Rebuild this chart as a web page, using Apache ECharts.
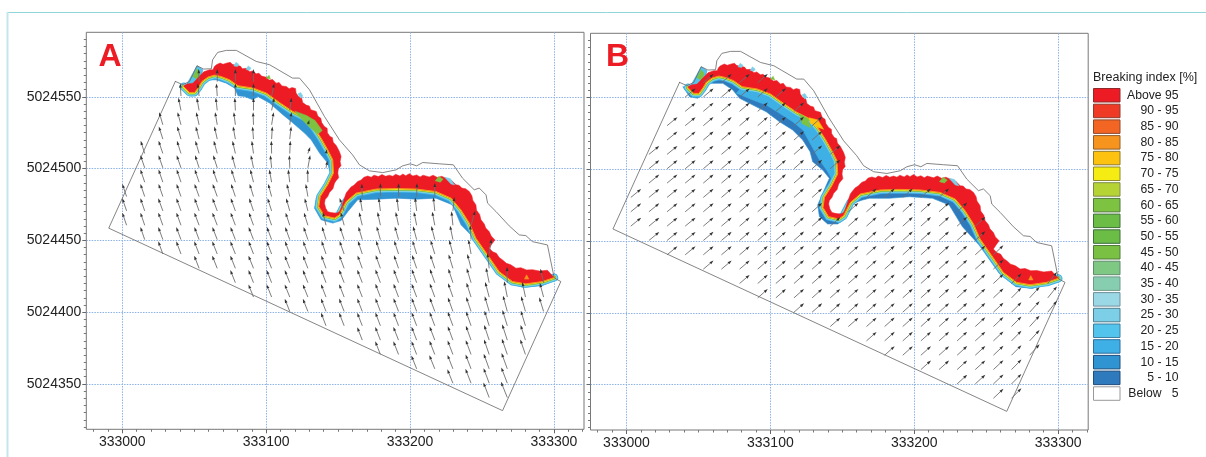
<!DOCTYPE html>
<html><head><meta charset="utf-8">
<style>html,body{margin:0;padding:0;background:#fff;overflow:hidden}#c{width:1206px;height:457px}</style>
<script src="https://cdn.jsdelivr.net/npm/echarts@6/dist/echarts.min.js"></script>
</head><body><div id="c"></div>
<script>
// All coordinates are metres, relative to easting 333000 / northing 5024000.
const EAST0 = 333000, NORTH0 = 5024000;
const xTickValues = [333000, 333100, 333200, 333300];
const yTickValues = [5024350, 5024400, 5024450, 5024500, 5024550];

const domainOutline = [[36.9,560.7],[-9.4,458.5],[264.3,331.4],[304.8,421.3],[300.2,423.8],[295.5,446.8],[285.1,449.1],[280.5,453.3],[275.9,453.8],[268.9,460.1],[259.7,470.1],[253.9,475.9],[252.8,481.7],[248.1,486.4],[244.6,485.2],[236.5,493.3],[230.1,502.6],[220.3,503.3],[208.8,504.2],[204.6,501.9],[200.2,503.3],[194.9,501.9],[190.3,499.1],[181,497.2],[171.8,498.4],[164.8,502.6],[160,509.6],[150.9,520],[140.5,536.3],[130.1,554.9],[123.2,563],[118.3,563],[102.4,572.3],[93.1,574.6],[79.3,582.3],[72.3,582.3],[66.3,580.9],[62.8,575.8],[61.9,569.5],[56.6,569.3],[51.9,571.6],[46.8,560.7],[42,558.4],[36.9,560.7]];

const greenLine = [[42.7,557],[46.8,553],[50.3,553],[53.1,556.8],[55.4,560.7],[59.5,563.7],[64.2,565.1],[68.8,564.1],[74.6,561.8],[80.4,557.7],[90.8,556.1],[100.1,552.6],[109.3,546],[118.5,539.8],[127.8,535.2],[133.6,528.2],[138.2,521.2],[142.8,513.1],[146.3,506.1],[146.8,496.8],[142.8,488.7],[137.6,480.5],[136.6,473.5],[140.5,467.1],[147.5,465.5],[150.9,467.8],[155.6,477],[162.5,482.9],[176.4,485.7],[190.3,486.1],[204.2,485.7],[218,484],[228.5,479.4],[235.4,471.2],[241.2,462],[245.8,451.5],[253.9,439.9],[262,428.2],[271.2,421.3],[280.5,419.7],[292,421.3],[300.2,424.1]];

const redEdge = [[42.9,557.7],[45,558.9],[49.1,559.5],[53.1,563.7],[56.6,567.4],[60.7,568.8],[63,568.8],[64,571],[65.4,572.3],[68,573.5],[70,572.6],[72.3,573.4],[75,574],[76.5,572.6],[79.3,571.8],[82,571.4],[83.5,569.6],[86.2,569.8],[88.5,567.4],[90.5,568],[93.1,566],[95,566.4],[96.8,564.4],[100.1,563.6],[102,561.6],[104.5,562],[107,559.5],[109,560],[111,557.5],[114,557.2],[116,555.6],[118,556.4],[120.4,555.8],[120.8,552.6],[122.5,550.2],[124.6,549.4],[125.4,546],[127.8,544.2],[130,543.6],[131,541],[134.8,539.8],[136,536.4],[138,535],[138.6,532],[140.5,529.3],[142.4,528],[142.6,525],[144.4,522.3],[146,521.6],[146.6,518.4],[148.7,516],[150,513.6],[151,511.6],[152.1,508.4],[151.4,505],[152,502],[150.2,499.8],[149.8,496.8],[150.4,493.6],[148.6,491.5],[147.5,489.8],[146.4,486],[144,483.4],[142.8,480.5],[141,478.4],[140.5,475.9],[141.4,472.4],[142.8,470],[145,469.4],[148.7,468.9],[151,470],[152.1,472.4],[153.6,477],[155.6,482.9],[156.7,484.4],[159,487.2],[161,488.4],[163.6,491],[166,492],[168,494],[170.6,494.8],[173,494],[175,495.4],[178,494.4],[180.5,495.8],[183,494.6],[185.6,495.4],[188,494.6],[190,496],[193,494.8],[195,496.2],[197,495],[199.5,496.4],[202,494.8],[204.6,495.6],[207,494.2],[209,495.4],[213.4,494.2],[216,495.4],[219,493.8],[222,494.6],[225,493.3],[227,491.4],[229,491.6],[231.9,488.7],[234,488.4],[236,486.4],[238.6,486],[241.2,484],[243,481],[243.6,478],[245.8,474.7],[246.2,471],[248.4,468],[249.3,464.3],[251.6,461.4],[252.6,458.6],[255,456.1],[256.4,453],[259,450.3],[257,447.6],[255,444.5],[257.5,442],[260,441],[262,438],[264.3,436.4],[267,434],[270,433],[273.6,430.6],[277,431],[281,429.4],[285.1,429.6],[290,428.6],[295.5,429.2],[298,426.4],[300.2,424.1]];

const waterEdgeA = [[42.7,556.3],[44.6,553.7],[48,550.7],[51.5,551.4],[53.8,555.4],[56.1,559.5],[60.7,561.8],[65.4,561.8],[72.3,559.5],[78.1,556.1],[80.4,550.7],[85,550.2],[90.8,547.9],[94.2,550.2],[102.4,545.6],[111.6,537.5],[117.4,532.8],[126.7,524.7],[131.3,520],[137.1,510.8],[142.8,503.8],[144.5,496.8],[140.5,488.7],[134.8,479.4],[133.6,472.4],[138.2,464.3],[146.3,462],[152.1,463.8],[156.7,470],[163.6,478.2],[177.5,478.7],[190.3,479.4],[204.2,478.7],[218,479.4],[229.6,474.7],[235.4,460.8],[242.3,453.8],[250.4,441],[259.7,428.2],[268.9,420.1],[278.1,417.4],[292,418.5],[301.3,422.4]];

const waterEdgeB = [[39.2,557.7],[43.9,550.7],[49.6,549.6],[54.3,554.2],[57.7,560],[67,560],[73.9,555.4],[78.6,549.6],[87.8,544.9],[97.1,540.2],[106.3,533.3],[115.5,527.5],[122.5,520.5],[127.6,512.4],[129.4,505.4],[136.4,499.6],[141,493.8],[136.4,483.4],[132.9,475.2],[134.1,467.1],[139.8,462],[146.8,462],[152.6,465.9],[157.2,476.4],[164.1,478.7],[168.8,479.9],[182.7,479.9],[196.6,481],[212.7,479.9],[224.3,475.2],[233.5,460.1],[245.1,447.3],[259,427.6],[270.6,418.3],[282.1,417.1],[300.6,422.9]];

const midBlueB = [[76.3,553.1],[87.8,548.4],[97.1,544.9],[106.3,539.1],[115.5,533.3],[122.5,527.5],[128.3,517],[134.1,506.6],[139.1,499.6],[143,492.6],[142.8,488.7],[146.8,496.8],[146.3,506.1],[142.8,513.1],[138.2,521.2],[133.6,528.2],[127.8,535.2],[118.5,539.8],[109.3,546],[100.1,552.6],[90.8,556.1],[80.4,557.7]];

const tipPatch = [[44.9,558.9],[52,571.6],[56,568.8],[54,562],[50,558]];
const tipGreen = [[49,564],[52,569.5],[54,567],[52.5,562]];
const greenPatchA = [[120,540],[128,537],[134,533.5],[139,526.5],[136,524],[130,529],[124,535]];
const greenPatchB = [[120,539],[126,535.5],[128,529],[122,532]];
const orangePatchB = [[127,536],[133,534.5],[137,528],[133,529.5],[128,532]];
const cyanSpecks = [[[77.5,571.5],[79,574],[81,572.6],[80,571]],[[86,569],[87.5,571.5],[89.5,570],[88.5,568.4]],[[122,552],[124,549],[125.5,550.5],[124,553]],[[224,494],[228,493],[231,488.6],[228.5,489.2]]];
const greenSpecks = [[[100,563],[102,565],[103,562.4]],[[217.5,491.5],[220,494.5],[223,492.6],[221,490.5]]];
const orangeSpeck = [[279.5,423],[281,426],[282.6,423]];

const rowStep = 10, rowOffset = 0.5;
const arrowColumns = [3,15.6,28.2,40.8,53.4,66,78.6,91.2,103.8,116.4,129,141.6,154.2,166.8,179.4,192,204.6,217.2,229.8,242.4,255,267.6,280.2,292.8];
const arrowFirstRow = [460,450,440,440,430,430,420,410,410,400,400,390,390,380,370,370,360,360,350,350,340,340,370,400];

// Panel A: eastward component of each arrow, south to north, column by column
const arrowEastA = [
 [-3,-3,-3],
 [-3,-3,-3,-3,-3,-3,-2.8],
 [-3.2,-3.2,-3.2,-3.2,-3,-3,-3,-3,-2.8,-2.6],
 [-3.3,-3.3,-3.2,-3.2,-3.1,-3,-3,-2.8,-2.6,-2.4,-1.8,-0.5],
 [-3.4,-3.4,-3.3,-3.3,-3.2,-3.2,-3,-2.8,-2.6,-2.3,-2,-1.6,-1,-0.3],
 [-3.5,-3.5,-3.4,-3.4,-3.3,-3.2,-3,-2.8,-2.4,-2,-1.5,-1,-0.6,0],
 [-3.5,-3.5,-3.5,-3.4,-3.3,-3.2,-3,-2.8,-2.4,-2,-1.6,-1.1,-0.4,0,0],
 [-3.5,-3.5,-3.5,-3.4,-3.4,-3.2,-3,-2.7,-2.2,-1.8,-1.2,-0.7,-0.3,0,0,0],
 [-3.5,-3.5,-3.5,-3.4,-3.3,-3.1,-2.8,-2.4,-1.6,-0.9,-0.2,0.5,1.4,1.8,1.8],
 [-3.5,-3.5,-3.5,-3.5,-3.3,-3.2,-2.9,-2.5,-2,-1.1,-0.3,0.4,1,1.2,1.2],
 [-3.5,-3.5,-3.5,-3.4,-3.3,-3,-2.7,-2.2,-1.5,-0.2,1.6],
 [-3.5,-3.5,-3.5,-3.4,-3.3,-3.1,-2.8,-2.2],
 [-3.5,-3.5,-3.5,-3.5,-3.4,-3.2,-3,-2.4,-3.2],
 [-3.5,-3.5,-3.5,-3.5,-3.5,-3.3,-3,-2.7,-2.2,-1.5,-0.3],
 [-3.6,-3.6,-3.5,-3.5,-3.5,-3.5,-3.3,-3,-2.6,-2,-1.2,0],
 [-3.6,-3.6,-3.5,-3.5,-3.5,-3.4,-3.2,-3,-2.6,-2,-1.2,0],
 [-3.7,-3.6,-3.6,-3.5,-3.5,-3.5,-3.4,-3.2,-2.9,-2.5,-1.9,-1.1,0.2],
 [-3.8,-3.7,-3.6,-3.6,-3.5,-3.5,-3.4,-3.2,-2.9,-2.4,-1.8,-1,0],
 [-3.9,-3.8,-3.7,-3.6,-3.6,-3.5,-3.4,-3.2,-3,-2.6,-2,-1,1],
 [-3.9,-3.8,-3.7,-3.6,-3.5,-3.4,-3.2,-3,-2.6,-1.8,-0.6,2.8],
 [-4,-3.9,-3.8,-3.6,-3.5,-3.3,-3.1,-2.8,-2.2,-1.2,1.5],
 [-4.4,-4.2,-4,-3.8,-3.6,-3.4,-3,-2.2,-0.2],
 [-3.6,-3.4,-3.2,-3,-2.2],
 [-3,-2.6,-2.2]
];
const arrowNorthA = [8.8,8.8,8.8,8.8,8.8,8.8,8.8,8.8,8.8,8.8,8.8,9,9,9,9.2,9.2,9.3,9.5,9.7,10,10.5,11,10.5,9.8];
// Panel A: the short arrows inside the breaking zone [column, row, east, north]
const arrowShortA = [[10,510,1.6,4.6],[10,530,1,3.4],[11,500,1,5],[11,510,0.6,3]];

// Panel B: one eastward / northward component per column
const arrowLastRowB = [480,510,530,550,560,560,560,560,550,540,530,460,470,480,480,480,480,480,470,460,440,420,410,420];
const arrowExtraB = [[11,500],[11,510]];
const arrowEastB = [7.2,7.2,7.2,7.2,7.1,7.1,7,7,7,7,7,7,7,7,7,7,7,7,7,7,7,6.9,6.9,6.4];
const arrowNorthB = [5.9,5.9,5.9,5.9,6,6,6,6.1,6.1,6.2,6.2,6.2,6.2,6.2,6.3,6.3,6.3,6.3,6.4,6.4,6.6,7,7.6,8];

const legendNames = ['Above 95','90 - 95','85 - 90','80 - 85','75 - 80','70 - 75','65 - 70','60 - 65','55 - 60','50 - 55','45 - 50','40 - 45','35 - 40','30 - 35','25 - 30','20 - 25','15 - 20','10 - 15','5 - 10','Below   5'];
const legendColors = ['#ed1c24','#ef3b26','#f36523','#f7941e','#fdc20f','#f5ec13','#b5d334','#7ec242','#6cbd45','#6cbd45','#7ac143','#7fc884','#87ceb0','#9bd8e6','#7ccfe6','#53c5ec','#3eb0e5','#3093d2','#2f79bd','#ffffff'];
const legendBorders = ['#8f2a2c','#8f3a2c','#8f4a2c','#8f5f2c','#8f7a2c','#8f8a2c','#7f8a4c','#4f7a3c','#3f6f3c','#3f6f3c','#4f7a3c','#5f8a6c','#6f9a8c','#6f8f9c','#4f7f8f','#3f7f9f','#2f6f9f','#1f4f7f','#1f4f7f','#999999'];

const colour = n => legendColors[legendNames.indexOf(n)];
const toData = p => [EAST0 + p[0], NORTH0 + p[1]];

function shapeSeries(name, panel, points, opts) {
  return {
    type: 'custom', name: name, xAxisIndex: panel * 2, yAxisIndex: panel * 2,
    z: opts.z, silent: true, clip: true, animation: false,
    encode: { x: 0, y: 1 }, data: points.map(toData),
    renderItem(params, api) {
      if (params.dataIndex !== 0) return null;
      const all = points.map(p => api.coord(toData(p)));
      return {
        type: opts.fill ? 'polygon' : 'polyline',
        shape: { points: all },
        style: opts.fill
          ? { fill: opts.fill, stroke: opts.stroke || opts.fill, lineWidth: opts.width === undefined ? 0.5 : opts.width }
          : { fill: null, stroke: opts.stroke, lineWidth: opts.width, lineJoin: 'round', lineCap: 'round' }
      };
    }
  };
}

function arrowSeries(panel, arrows) {
  return {
    type: 'custom', name: panel ? 'Vectors B' : 'Vectors A',
    xAxisIndex: panel * 2, yAxisIndex: panel * 2, z: 30, silent: true, clip: true, animation: false,
    encode: { x: 0, y: 1 }, data: arrows,
    renderItem(params, api) {
      const a = api.coord([api.value(0), api.value(1)]);
      const b = api.coord([api.value(0) + api.value(2), api.value(1) + api.value(3)]);
      const ang = Math.atan2(b[1] - a[1], b[0] - a[0]);
      const hl = 4.2, hw = 1.4;
      const bx = b[0] - hl * Math.cos(ang), by = b[1] - hl * Math.sin(ang);
      const nx = -Math.sin(ang) * hw, ny = Math.cos(ang) * hw;
      return { type: 'group', children: [
        { type: 'line', shape: { x1: a[0], y1: a[1], x2: bx, y2: by }, style: { stroke: '#6e6e6e', lineWidth: 0.9 } },
        { type: 'polygon', shape: { points: [[b[0], b[1]], [bx + nx, by + ny], [bx - nx, by - ny]] }, style: { fill: '#333' } }
      ]};
    }
  };
}

const arrowsA = [];
arrowEastA.forEach((list, k) => list.forEach((dx, i) => {
  arrowsA.push([EAST0 + arrowColumns[k], NORTH0 + arrowFirstRow[k] + rowStep * i + rowOffset, dx, arrowNorthA[k]]);
}));
arrowShortA.forEach(s => arrowsA.push([EAST0 + arrowColumns[s[0]], NORTH0 + s[1] + rowOffset, s[2], s[3]]));
const arrowsB = [];
arrowColumns.forEach((x, k) => {
  for (let r = arrowFirstRow[k]; r <= arrowLastRowB[k]; r += rowStep)
    arrowsB.push([EAST0 + x, NORTH0 + r + rowOffset, arrowEastB[k], arrowNorthB[k]]);
});
arrowExtraB.forEach(e => arrowsB.push([EAST0 + arrowColumns[e[0]], NORTH0 + e[1] + rowOffset, arrowEastB[e[0]], arrowNorthB[e[0]]]));

function panelSeries(panel) {
  const water = panel ? waterEdgeB : waterEdgeA;
  const waterRing = water.concat(greenLine.slice().reverse());
  const redRing = greenLine.concat(redEdge.slice().reverse());
  const s = [];
  s.push(shapeSeries('5 - 10', panel, waterRing, { fill: colour(panel ? '5 - 10' : '10 - 15'), stroke: colour('10 - 15'), width: 0.6, z: 5 }));
  if (panel) s.push(shapeSeries('15 - 20', panel, midBlueB, { fill: colour('15 - 20'), z: 6 }));
  s.push(shapeSeries('20 - 25', panel, tipPatch, { fill: colour('20 - 25'), stroke: colour('10 - 15'), z: 6 }));
  s.push(shapeSeries('45 - 50', panel, tipGreen, { fill: colour('45 - 50'), z: 7 }));
  const strokes = [['15 - 20',8,7],['20 - 25',6.6,8],['30 - 35',5.4,9],['40 - 45',4.4,10],['55 - 60',3.4,11],['65 - 70',2.6,12],['70 - 75',1.9,13]];
  strokes.forEach(t => s.push(shapeSeries(t[0], panel, greenLine, { stroke: colour(t[0]), width: t[1], z: t[2] })));
  s.push(shapeSeries('Above 95', panel, redRing, { fill: colour('Above 95'), width: 0.5, z: 15 }));
  s.push(shapeSeries('80 - 85', panel, greenLine, { stroke: colour('80 - 85'), width: 1, z: 16 }));
  cyanSpecks.forEach(p => s.push(shapeSeries('25 - 30', panel, p, { fill: colour('25 - 30'), z: 17 })));
  greenSpecks.forEach(p => s.push(shapeSeries('60 - 65', panel, p, { fill: colour('60 - 65'), z: 17 })));
  s.push(shapeSeries('80 - 85', panel, orangeSpeck, { fill: colour('80 - 85'), z: 17 }));
  s.push(shapeSeries('60 - 65', panel, panel ? greenPatchB : greenPatchA, { fill: colour('60 - 65'), z: 17 }));
  if (panel) s.push(shapeSeries('75 - 80', panel, orangePatchB, { fill: colour('75 - 80'), z: 17 }));
  s.push(shapeSeries('Domain ' + panel, panel, domainOutline, { stroke: '#666', width: 0.8, z: 20 }));
  s.push(arrowSeries(panel, panel ? arrowsB : arrowsA));
  return s;
}

const series = panelSeries(0).concat(panelSeries(1));
const present = new Set(series.map(s => s.name));
legendNames.forEach(n => { if (!present.has(n)) series.push({ type: 'custom', name: n, data: [], xAxisIndex: 0, yAxisIndex: 0, renderItem() { return null; } }); });

const xMinor = []; for (let v = 332980; v <= 333320; v += 10) xMinor.push(v);
const yMinor = []; for (let v = 5024320; v <= 5024590; v += 5) yMinor.push(v);
const gridLine = { show: true, lineStyle: { color: '#8db3e6', width: 1, type: [1.5, 1.2] } };
const labelFont = { fontFamily: 'Liberation Sans', fontSize: 14, color: '#222' };

function xAxes(g) { return [
  { type: 'value', gridIndex: g, min: 332975, max: 333320.9, position: 'bottom', axisLine: { show: false },
    axisTick: { show: true, customValues: xTickValues, length: 4, lineStyle: { color: '#666' } },
    axisLabel: Object.assign({ customValues: xTickValues, margin: 6, formatter: v => String(v) }, labelFont), splitLine: gridLine, z: 1 },
  { type: 'value', gridIndex: g, min: 332975, max: 333320.9, position: 'bottom', axisLine: { show: false },
    axisTick: { show: true, customValues: xMinor, length: 2.5, lineStyle: { color: '#777' } },
    axisLabel: { show: false }, splitLine: { show: false } }
]; }
function yAxes(g, labels) { return [
  { type: 'value', gridIndex: g, min: 5024318.4, max: 5024594.9, position: 'left', axisLine: { show: false },
    axisTick: { show: true, customValues: yTickValues, length: 4, lineStyle: { color: '#666' } },
    axisLabel: Object.assign({ show: labels, customValues: yTickValues, margin: 5, formatter: v => String(v) }, labelFont), splitLine: gridLine, z: 1 },
  { type: 'value', gridIndex: g, min: 5024318.4, max: 5024594.9, position: 'left', axisLine: { show: false },
    axisTick: { show: true, customValues: yMinor, length: 2.5, lineStyle: { color: '#777' } },
    axisLabel: { show: false }, splitLine: { show: false } }
]; }

const chart = echarts.init(document.getElementById('c'), null, { renderer: 'canvas' });
chart.setOption({
  animation: false,
  backgroundColor: '#fff',
  title: [
    { text: 'A', left: 98.5, top: 41, padding: 0, textStyle: { color: '#ed1c24', fontSize: 32, fontWeight: 'bold', fontFamily: 'Liberation Sans' } },
    { text: 'B', left: 606, top: 41, padding: 0, textStyle: { color: '#ed1c24', fontSize: 32, fontWeight: 'bold', fontFamily: 'Liberation Sans' } },
    { text: 'Breaking index [%]', left: 1093, top: 71, padding: 0, textStyle: { color: '#222', fontSize: 12.5, fontWeight: 'normal', fontFamily: 'Liberation Sans' } }
  ],
  grid: [
    { left: 86.3, top: 32.3, width: 497.7, height: 397, show: true, borderColor: '#777', borderWidth: 1, containLabel: false },
    { left: 590.5, top: 33.3, width: 497.7, height: 396.7, show: true, borderColor: '#777', borderWidth: 1, containLabel: false }
  ],
  xAxis: xAxes(0).concat(xAxes(1)),
  yAxis: yAxes(0, true).concat(yAxes(1, false)),
  legend: {
    orient: 'vertical', left: 1093, top: 88, padding: 0, itemWidth: 26.5, itemHeight: 13.5, itemGap: 1.2, selectedMode: false, align: 'left',
    textStyle: { fontFamily: 'Liberation Sans', fontSize: 12.2, color: '#222', rich: { t: { width: 53.5, align: 'right', fontSize: 12.2, fontFamily: 'Liberation Sans', color: '#222' } } },
    formatter: n => '{t|' + n + '}',
    data: legendNames.map((n, i) => ({ name: n, icon: 'rect', itemStyle: { color: legendColors[i], borderColor: legendBorders[i], borderWidth: 1 } }))
  },
  graphic: [
    { type: 'line', shape: { x1: 7, y1: 12.5, x2: 1206, y2: 12.5 }, style: { stroke: '#8fd5d9', lineWidth: 1 }, silent: true },
    { type: 'line', shape: { x1: 7.5, y1: 12, x2: 7.5, y2: 457 }, style: { stroke: '#c5e7ec', lineWidth: 2 }, silent: true }
  ],
  series: series
});
</script></body></html>
